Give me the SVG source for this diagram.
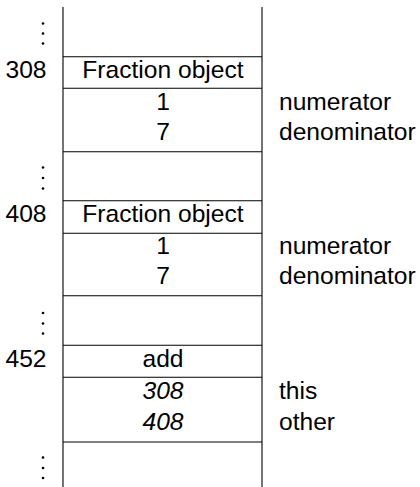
<svg xmlns="http://www.w3.org/2000/svg" width="420" height="487" viewBox="0 0 420 487">
<style>
text{font-family:"Liberation Sans",Arial,sans-serif;font-size:24.6px;fill:#000}
.c{text-anchor:middle}
.r{text-anchor:end}
.i{font-style:italic}
line{stroke:#000;stroke-width:1.1}
circle{fill:#000}
</style>
<rect width="420" height="487" fill="#fff"/>
<g id="frame">
<line x1="63" y1="7" x2="63" y2="487"/>
<line x1="262" y1="7" x2="262" y2="487"/>
</g>
<g id="dots">
<circle cx="43" cy="23.5" r="1.3"/><circle cx="43" cy="33.5" r="1.3"/><circle cx="43" cy="43.5" r="1.3"/>
<circle cx="43" cy="167.5" r="1.3"/><circle cx="43" cy="178" r="1.3"/><circle cx="43" cy="188.5" r="1.3"/>
<circle cx="43" cy="313" r="1.3"/><circle cx="43" cy="323.5" r="1.3"/><circle cx="43" cy="333.5" r="1.3"/>
<circle cx="43" cy="457.5" r="1.3"/><circle cx="43" cy="468" r="1.3"/><circle cx="43" cy="478" r="1.3"/>
</g>
<g id="obj308">
<line x1="63" y1="56.7" x2="262" y2="56.7"/>
<line x1="63" y1="88.3" x2="262" y2="88.3"/>
<line x1="63" y1="151.7" x2="262" y2="151.7"/>
<text class="r" x="46.5" y="77.5">308</text>
<text class="c" x="163" y="77.5">Fraction object</text>
<text class="c" x="163" y="110">1</text>
<text class="c" x="163" y="140">7</text>
<text x="279" y="110">numerator</text>
<text x="279" y="140">denominator</text>
</g>
<g id="obj408">
<line x1="63" y1="200.7" x2="262" y2="200.7"/>
<line x1="63" y1="233.3" x2="262" y2="233.3"/>
<line x1="63" y1="295.7" x2="262" y2="295.7"/>
<text class="r" x="46.5" y="221.5">408</text>
<text class="c" x="163" y="221.5">Fraction object</text>
<text class="c" x="163" y="254">1</text>
<text class="c" x="163" y="284">7</text>
<text x="279" y="254">numerator</text>
<text x="279" y="284">denominator</text>
</g>
<g id="frame452">
<line x1="63" y1="345.3" x2="262" y2="345.3"/>
<line x1="63" y1="377.3" x2="262" y2="377.3"/>
<line x1="63" y1="442" x2="262" y2="442"/>
<text class="r" x="46.5" y="367">452</text>
<text class="c" x="163" y="367">add</text>
<text class="c i" x="163" y="399">308</text>
<text class="c i" x="163" y="429.5">408</text>
<text x="279" y="399">this</text>
<text x="279" y="429.5">other</text>
</g>
</svg>
